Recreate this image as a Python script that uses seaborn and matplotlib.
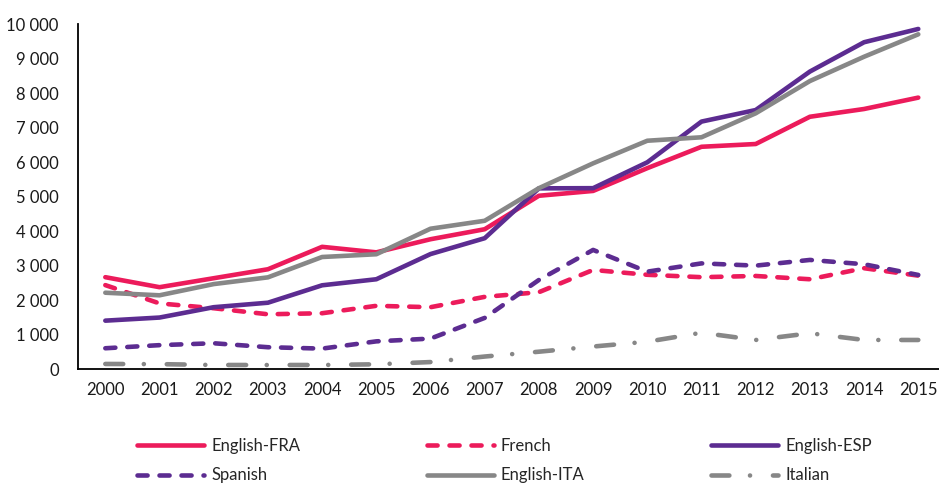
import numpy as np
import pandas as pd
import seaborn as sns
import matplotlib.pyplot as plt
from matplotlib.ticker import FixedLocator, FuncFormatter

years = list(range(2000, 2016))

english_fra = [2670, 2380, 2640, 2900, 3550, 3390, 3770, 4060, 5030, 5170, 5830, 6450, 6530, 7320, 7545, 7875]
french = [2440, 1910, 1770, 1595, 1625, 1840, 1800, 2100, 2235, 2880, 2740, 2670, 2705, 2610, 2930, 2715]
english_esp = [1410, 1500, 1800, 1930, 2435, 2610, 3340, 3800, 5245, 5250, 6000, 7180, 7515, 8630, 9480, 9865]
spanish = [610, 700, 755, 640, 600, 810, 890, 1490, 2590, 3460, 2830, 3070, 3005, 3170, 3045, 2735]
english_ita = [2220, 2145, 2470, 2665, 3255, 3335, 4075, 4305, 5250, 5970, 6625, 6725, 7420, 8355, 9060, 9710]
italian = [155, 150, 125, 125, 125, 145, 210, 370, 510, 660, 800, 1060, 850, 1045, 850, 850]

pink = "#EC1B5B"
purple = "#5C2C91"
grey = "#878787"

series = [
    ("English-FRA", english_fra, pink, "-"),
    ("French", french, pink, (0, (2.2, 2.6))),
    ("English-ESP", english_esp, purple, "-"),
    ("Spanish", spanish, purple, (0, (2.2, 2.6))),
    ("English-ITA", english_ita, grey, "-"),
    ("Italian", italian, grey, (0, (3.9, 4.5, 0.01, 5.0))),
]

sns.set_style("white")
plt.rcParams["font.family"] = ["Lato", "DejaVu Sans"]

fig = plt.figure(figsize=(9.39, 4.83), dpi=100)
ax = fig.add_axes([0.0833, 0.2354, 0.9235, 0.7143])

lines = {}
for name, vals, col, ls in series:
    df = pd.DataFrame({"year": years, "value": vals})
    sns.lineplot(data=df, x="year", y="value", ax=ax, color=col, linewidth=3.3,
                 label=name)
    ln = ax.get_lines()[-1]
    ln.set_linestyle(ls)
    ln.set_dash_capstyle("round")
    ln.set_solid_capstyle("round")
    lines[name] = ln

ax.set_xlim(1999.5, 2015.5)
ax.set_ylim(0, 10000)
ax.set_xlabel("")
ax.set_ylabel("")

# ticks sit between the years, labels centred on them
ax.xaxis.set_major_locator(FixedLocator(np.arange(1999.5, 2016, 1)))
ax.xaxis.set_major_formatter(FuncFormatter(lambda v, p: ""))
ax.xaxis.set_minor_locator(FixedLocator(years))
ax.xaxis.set_minor_formatter(FuncFormatter(lambda v, p: f"{int(round(v))}"))
ax.tick_params(axis="x", which="major", length=6, width=1.3, direction="out", color="black")
ax.tick_params(axis="x", which="minor", length=0, pad=9, labelsize=12, colors="#1a1a1a")

ax.yaxis.set_major_locator(FixedLocator(np.arange(0, 10001, 1000)))
ax.yaxis.set_major_formatter(FuncFormatter(lambda v, p: f"{int(v):,}".replace(",", " ")))
ax.tick_params(axis="y", length=6, width=1.3, direction="out", color="black",
               labelsize=12, labelcolor="#1a1a1a", pad=8)

for s in ["top", "right"]:
    ax.spines[s].set_visible(False)
for s in ["left", "bottom"]:
    ax.spines[s].set_color("black")
    ax.spines[s].set_linewidth(1.3)

order = ["English-FRA", "Spanish", "French", "English-ITA", "English-ESP", "Italian"]
ax.legend([lines[n] for n in order], order, ncol=3, frameon=False,
          loc="upper left", bbox_to_anchor=(137 / 939, 45 / 483),
          bbox_transform=fig.transFigure, borderaxespad=0, borderpad=0,
          fontsize=12, handlelength=4.0, handletextpad=0.45,
          columnspacing=7.6, labelspacing=0.8)

fig.savefig("out.png", dpi=100)
